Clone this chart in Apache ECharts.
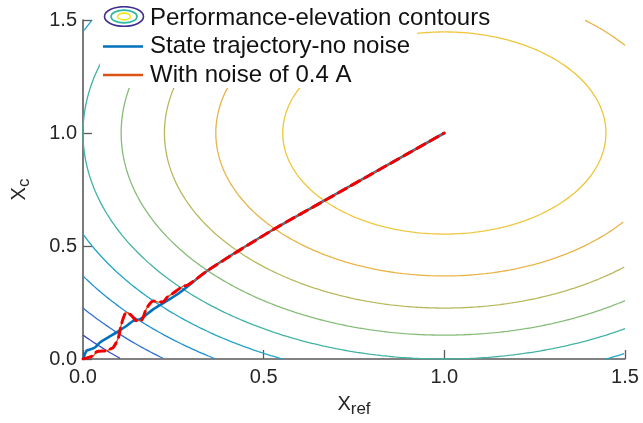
<!DOCTYPE html>
<html>
<head>
<meta charset="utf-8">
<script src="https://cdn.jsdelivr.net/npm/echarts@6/dist/echarts.min.js"></script>
<style>
html, body { margin: 0; padding: 0; background: #fff; }
#chart { width: 643px; height: 423px; }
</style>
</head>
<body>
<div id="chart"></div>
<script>
// contour field: circles around the optimum, levels
const contourCenter = [1.0, 1.0];
const contourLevels = [0.2, 0.4, 0.6, 0.8, 1.0, 1.2, 1.4, 1.6, 1.8];
const contourColors = ['#EEC63A', '#E8B448', '#B7B85C', '#86BC78', '#3FB2A2', '#22A4C4', '#1E8FD2', '#2C70D0', '#3A4EC0'];

// trajectory without noise
const cleanX = [0, 0.01, 0.015, 0.033, 0.047, 0.07, 0.093, 0.121, 0.139, 0.158, 0.195, 0.232, 0.268, 0.35, 0.527, 0.674, 1.0];
const cleanY = [0, 0.037, 0.040, 0.051, 0.073, 0.096, 0.118, 0.147, 0.169, 0.176, 0.221, 0.257, 0.294, 0.397, 0.573, 0.706, 1.0];

// trajectory with noise of 0.4 A
const noiseX = [0, 0.029, 0.038, 0.066, 0.075, 0.084, 0.098, 0.107, 0.121, 0.135, 0.149, 0.162, 0.176, 0.195, 0.208, 0.222, 0.232, 0.25, 0.278, 0.287, 0.35, 0.527, 0.674, 1.0];
const noiseY = [0, 0.015, 0.032, 0.037, 0.044, 0.051, 0.095, 0.158, 0.206, 0.191, 0.169, 0.172, 0.224, 0.257, 0.252, 0.253, 0.272, 0.292, 0.323, 0.325, 0.397, 0.573, 0.706, 1.0];

const xTicks = [0, 0.5, 1.0, 1.5];
const yTicks = [0, 0.5, 1.0, 1.5];

const font = 'Arial, "Liberation Sans", sans-serif';
const pairs = (xs, ys) => xs.map((x, i) => [x, ys[i]]);

const contourName = 'Performance-elevation contours';
const cleanName = 'State trajectory-no noise';
const noiseName = 'With noise of 0.4 A';

const svgIcon = (body) => 'image://data:image/svg+xml;charset=utf-8,' + encodeURIComponent(
    '<svg xmlns="http://www.w3.org/2000/svg" width="42" height="24" viewBox="0 0 42 24">' + body + '</svg>');
const contourIcon = svgIcon(
    '<ellipse cx="21" cy="10.5" rx="19.5" ry="9.8" fill="none" stroke="#3F2E8F" stroke-width="1.6"/>' +
    '<ellipse cx="21" cy="10.5" rx="13" ry="6.4" fill="none" stroke="#2DB7A4" stroke-width="1.6"/>' +
    '<ellipse cx="21" cy="10.5" rx="6.5" ry="3.4" fill="none" stroke="#EFE51A" stroke-width="1.6"/>');
const lineIcon = (c) => svgIcon('<line x1="0" y1="12" x2="40" y2="12" stroke="' + c + '" stroke-width="2.5"/>');

// cut one contour circle to the visible axis box, returns polyline pieces
const xMin = xTicks[0], xMax = xTicks[xTicks.length - 1];
const yMin = yTicks[0], yMax = yTicks[yTicks.length - 1];
const inBox = (p) => p[0] >= xMin && p[0] <= xMax && p[1] >= yMin && p[1] <= yMax;
function contourPieces(lvl) {
    const r = Math.sqrt(lvl);
    const pt = (t) => [contourCenter[0] + r * Math.cos(t), contourCenter[1] + r * Math.sin(t)];
    const N = 720;
    const segs = [];
    let prevT = 0;
    let prevIn = inBox(pt(0));
    let cur = prevIn ? [pt(0)] : null;
    for (let i = 1; i <= N; i++) {
        const t = 2 * Math.PI * i / N;
        const p = pt(t);
        const isIn = inBox(p);
        if (isIn !== prevIn) {
            let a = prevT, b = t;
            for (let k = 0; k < 30; k++) {
                const m = (a + b) / 2;
                if (inBox(pt(m)) === prevIn) a = m; else b = m;
            }
            if (isIn) {
                cur = [pt(b)];
            } else {
                cur.push(pt(a));
                segs.push(cur);
                cur = null;
            }
        }
        if (isIn) cur.push(p);
        prevT = t;
        prevIn = isIn;
    }
    if (cur) {
        if (segs.length && inBox(pt(0))) segs[0] = cur.concat(segs[0]);
        else segs.push(cur);
    }
    return segs;
}

const myChart = echarts.init(document.getElementById('chart'), null, { renderer: 'canvas' });

const contourSeries = [];
contourLevels.forEach((lvl, k) => {
    contourPieces(lvl).forEach((seg) => {
        contourSeries.push({
            name: contourName,
            type: 'line',
            data: seg,
            symbol: 'none',
            clip: true,
            silent: true,
            z: 1,
            lineStyle: { color: contourColors[k], width: 1.3 },
            itemStyle: { color: contourColors[k] }
        });
    });
});

const axisName = () => ({
    fontFamily: font, color: '#262626',
    rich: {
        x: { fontFamily: font, fontSize: 20, color: '#262626' },
        s: { fontFamily: font, fontSize: 17, color: '#262626', padding: [10, 0, 0, 0] }
    }
});

const option = {
    animation: false,
    backgroundColor: '#fff',
    grid: { left: 83, right: 18, top: 20, bottom: 63 },
    graphic: [
        {
            type: 'rect',
            z: 3,
            shape: { x: 100, y: 0, width: 317, height: 88 },
            style: { fill: '#fff' },
            silent: true
        }
    ],
    legend: {
        orient: 'vertical',
        left: 103,
        top: 6,
        padding: 0,
        z: 6,
        itemWidth: 42,
        itemHeight: 24,
        itemGap: 4.5,
        textStyle: { fontFamily: font, fontSize: 24, lineHeight: 24, color: '#111' },
        selectedMode: false,
        data: [
            { name: contourName, icon: contourIcon },
            { name: cleanName, icon: lineIcon('#0072BD') },
            { name: noiseName, icon: lineIcon('#D95319') }
        ]
    },
    xAxis: {
        type: 'value',
        min: 0,
        max: 1.5,
        interval: 0.5,
        name: '{x|X}{s|ref}',
        nameLocation: 'middle',
        nameGap: 32,
        nameTextStyle: axisName(),
        axisLine: { show: true, lineStyle: { color: '#5a5a5a', width: 1.6 } },
        axisTick: { show: true, inside: true, length: 9, lineStyle: { color: '#5a5a5a', width: 1.3 } },
        axisLabel: {
            fontFamily: font, fontSize: 20, color: '#262626', margin: 8,
            formatter: (v) => xTicks.includes(v) ? v.toFixed(1) : ''
        },
        splitLine: { show: false }
    },
    yAxis: {
        type: 'value',
        min: 0,
        max: 1.5,
        interval: 0.5,
        name: '{x|X}{s|c}',
        nameLocation: 'middle',
        nameGap: 50,
        nameRotate: 90,
        nameTextStyle: axisName(),
        axisLine: { show: true, lineStyle: { color: '#5a5a5a', width: 1.6 } },
        axisTick: { show: true, inside: true, length: 9, lineStyle: { color: '#5a5a5a', width: 1.3 } },
        axisLabel: {
            fontFamily: font, fontSize: 20, color: '#262626', margin: 6,
            formatter: (v) => yTicks.includes(v) ? v.toFixed(1) : ''
        },
        splitLine: { show: false }
    },
    series: contourSeries.concat([
        {
            name: cleanName,
            type: 'line',
            data: pairs(cleanX, cleanY),
            symbol: 'none',
            smooth: 0.3,
            z: 3,
            lineStyle: { color: '#0072BD', width: 2.6 },
            itemStyle: { color: '#0072BD' }
        },
        {
            name: noiseName,
            type: 'line',
            data: pairs(noiseX, noiseY),
            symbol: 'none',
            smooth: 0.3,
            z: 4,
            lineStyle: { color: '#D95319', width: 1.3 },
            itemStyle: { color: '#D95319' }
        },
        {
            name: 'noise-dashed',
            type: 'line',
            data: pairs(noiseX, noiseY),
            symbol: 'none',
            smooth: 0.3,
            z: 5,
            lineStyle: { color: '#F00000', width: 3, type: [9, 6], cap: 'round' },
            itemStyle: { color: '#F00000' }
        }
    ])
};
option && myChart.setOption(option);
</script>
</body>
</html>
